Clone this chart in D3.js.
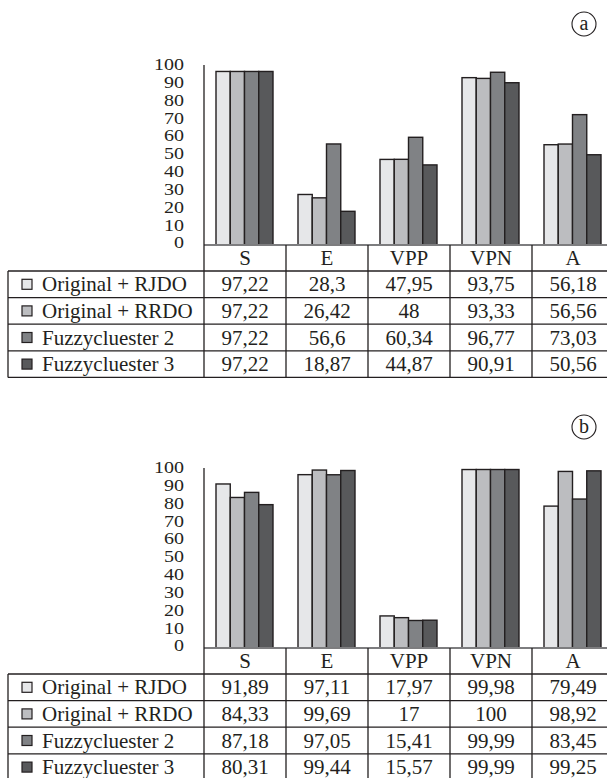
<!DOCTYPE html>
<html>
<head>
<meta charset="utf-8">
<script src="https://cdn.jsdelivr.net/npm/d3@7/dist/d3.min.js"></script>
<style>
  html, body { margin: 0; padding: 0; background: #ffffff; }
  svg { display: block; }
  text { font-family: "Times New Roman", "Liberation Serif", "DejaVu Serif", serif; fill: #231f20; }
</style>
</head>
<body>
<svg id="chart" width="607" height="778"></svg>
<script>
// Measures shown as columns of the table
const categories = ["S", "E", "VPP", "VPN", "A"];
// Methods compared (one bar per method inside each group)
const methods = ["Original + RJDO", "Original + RRDO", "Fuzzycluester 2", "Fuzzycluester 3"];
const methodColors = ["#e6e7e9", "#bcbdc0", "#808285", "#58595b"];
const yTicks = [0, 10, 20, 30, 40, 50, 60, 70, 80, 90, 100];

// Panel (a): rows = methods, columns = categories
const valuesA = [
  [97.22, 28.3, 47.95, 93.75, 56.18],
  [97.22, 26.42, 48, 93.33, 56.56],
  [97.22, 56.6, 60.34, 96.77, 73.03],
  [97.22, 18.87, 44.87, 90.91, 50.56]
];
// Panel (b)
const valuesB = [
  [91.89, 97.11, 17.97, 99.98, 79.49],
  [84.33, 99.69, 17, 100, 98.92],
  [87.18, 97.05, 15.41, 99.99, 83.45],
  [80.31, 99.44, 15.57, 99.99, 99.25]
];

const ink = "#231f20";
const svg = d3.select("#chart");

const axisX = 204, tableLeft = 8, tableRight = 614;
const fmt = v => String(v).replace(".", ",");

function drawPanel(top, tag, values) {
  const g = svg.append("g").attr("transform", `translate(0,${top})`);
  const base = 245;

  const y = d3.scaleLinear().domain([0, 100]).range([base, 66.5]);
  const x0 = d3.scaleBand().domain(categories).range([axisX, tableRight]);
  const x1 = d3.scaleBand().domain(methods).range([12, x0.bandwidth() - 13]);

  // panel tag in a circle
  g.append("circle").attr("cx", 584).attr("cy", 24).attr("r", 12)
    .attr("fill", "none").attr("stroke", ink).attr("stroke-width", 1.1);
  g.append("text").attr("x", 584).attr("y", 24).attr("dy", "0.32em")
    .attr("text-anchor", "middle").attr("font-size", 20).text(tag);

  // y tick labels: tightly stacked, slightly widened glyphs
  g.selectAll(".ytick").data(yTicks).join("text")
    .attr("class", "ytick")
    .attr("transform", d => `translate(184,${y(d) - 2}) scale(1.25,1)`)
    .attr("dy", "0.34em")
    .attr("text-anchor", "end").attr("font-size", 16)
    .text(d => d);

  // bars
  const groups = g.selectAll(".grp").data(categories).join("g")
    .attr("class", "grp")
    .attr("transform", d => `translate(${x0(d)},0)`);
  groups.selectAll("rect").data((c, ci) => methods.map((m, mi) => ({ m, mi, v: values[mi][ci] })))
    .join("rect")
    .attr("x", d => x1(d.m))
    .attr("y", d => y(d.v))
    .attr("width", x1.bandwidth())
    .attr("height", d => base - y(d.v))
    .attr("fill", d => methodColors[d.mi])
    .attr("stroke", ink).attr("stroke-width", 1.4);

  // baseline
  g.append("line").attr("x1", axisX).attr("x2", tableRight).attr("y1", base).attr("y2", base)
    .attr("stroke", "#7d7d7f").attr("stroke-width", 2);

  // table geometry
  const rowH = 26.6;
  const headTop = base, headBot = base + 26;
  const rowTops = methods.map((m, i) => headBot + i * rowH);
  const tableBot = headBot + methods.length * rowH;

  const lines = g.append("g").attr("stroke", ink).attr("stroke-width", 1.3);
  // vertical axis continues as the first column border
  lines.append("line").attr("x1", axisX).attr("x2", axisX).attr("y1", 65).attr("y2", tableBot);
  lines.append("line").attr("x1", tableLeft).attr("x2", tableLeft).attr("y1", headBot).attr("y2", tableBot);
  categories.forEach(c => {
    const xr = x0(c) + x0.bandwidth();
    lines.append("line").attr("x1", xr).attr("x2", xr).attr("y1", headTop).attr("y2", tableBot);
  });
  rowTops.concat([tableBot]).forEach(yy => {
    lines.append("line").attr("x1", tableLeft).attr("x2", tableRight).attr("y1", yy).attr("y2", yy);
  });

  // header labels
  g.selectAll(".head").data(categories).join("text")
    .attr("class", "head")
    .attr("x", d => x0(d) + x0.bandwidth() / 2)
    .attr("y", (headTop + headBot) / 2).attr("dy", "0.34em")
    .attr("text-anchor", "middle").attr("font-size", 21)
    .text(d => d);

  // rows: legend swatch, method name, values
  methods.forEach((m, mi) => {
    const cy = rowTops[mi] + rowH / 2;
    g.append("rect").attr("x", 22).attr("y", cy - 5).attr("width", 10).attr("height", 10)
      .attr("fill", methodColors[mi]).attr("stroke", ink).attr("stroke-width", 1.2);
    g.append("text").attr("x", 42).attr("y", cy).attr("dy", "0.34em")
      .attr("font-size", 21).text(m);
    categories.forEach((c, ci) => {
      g.append("text")
        .attr("x", x0(c) + x0.bandwidth() / 2).attr("y", cy).attr("dy", "0.34em")
        .attr("text-anchor", "middle").attr("font-size", 21)
        .text(fmt(values[mi][ci]));
    });
  });
}

drawPanel(0, "a", valuesA);
drawPanel(403, "b", valuesB);
</script>
</body>
</html>
